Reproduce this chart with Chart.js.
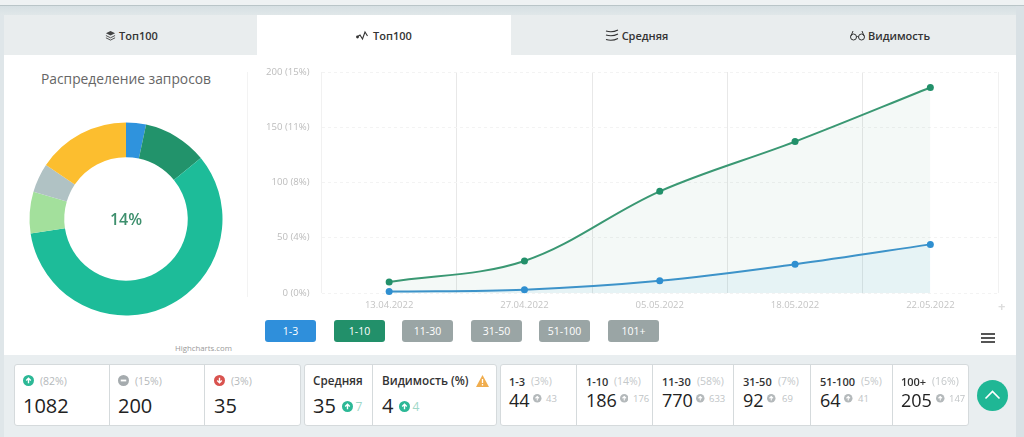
<!DOCTYPE html>
<html lang="ru">
<head>
<meta charset="utf-8">
<title>Топ100</title>
<script src="https://cdn.jsdelivr.net/npm/chart.js@4"></script>
<style>
    html, body { margin: 0; padding: 0; }
    body { width: 1024px; height: 437px; position: relative; overflow: hidden; background: #e9eef0; font-family: "Open Sans", sans-serif; color: #222; }
    .abs { position: absolute; }
    #topbar { left: 0; top: 0; width: 1024px; height: 5px; background: #eef2f3; border-bottom: 1px solid #b9c5c8; }
    #band { left: 0; top: 6px; width: 1024px; height: 9px; background: linear-gradient(#d6e0e3, #e0e7e9); }
    #side { left: 1016px; top: 6px; width: 8px; height: 431px; background: #d9e1e5; }
    #strip { left: 0; top: 15px; width: 4px; height: 422px; background: #dfe6e9; }
    #panel { left: 4px; top: 15px; width: 1012px; height: 340px; background: #fff; }
    .tab { position: absolute; top: 15px; height: 40px; background: #e9edee; font-size: 11px; font-weight: 600; color: #333; display: flex; align-items: center; justify-content: center; gap: 3px; }
    .tab.active { background: #fff; z-index: 1; }
    .tab svg { display: block; }
    #pie-title { left: 4px; width: 244px; top: 69px; text-align: center; font-size: 13.8px; color: #666; }
    #pie-center { left: 86px; width: 80px; top: 208px; text-align: center; font-size: 16px; font-weight: 600; color: #3d8f6d; }
    #credits { left: 175px; top: 342.500px; font-size: 7.800px; color: #999; }
    #divider { left: 247px; top: 72px; width: 1px; height: 225px; background: #f3f3f3; }
    #pie-wrap { left: 26px; top: 119px; width: 200px; height: 200px; }
    #line-wrap { left: 250px; top: 60px; width: 752px; height: 252px; }
    .legend-btn { position: absolute; top: 320px; width: 51px; height: 22px; border-radius: 3px; color: #fff; font-size: 10.500px; line-height: 22px; text-align: center; }
    #plus { left: 998px; top: 297px; font-size: 13px; color: #ddd; font-weight: 700; }
    .burger { position: absolute; left: 981px; width: 14px; height: 2px; background: #555; }
    .card { position: absolute; top: 364px; height: 62px; background: #fff; border: 1px solid #d5dadc; border-radius: 3px; box-sizing: border-box; }
    .sep { position: absolute; top: 364px; width: 1px; height: 62px; background: #d5dadc; }
    .txt { position: absolute; white-space: nowrap; }
    #up { left: 977px; top: 380px; width: 31px; height: 31px; border-radius: 50%; background: #1fb795; }
</style>
</head>
<body>
<div class="abs" id="topbar"></div>
<div class="abs" id="band"></div>
<div class="abs" id="side"></div>
<div class="abs" id="strip"></div>
<div class="abs" id="panel"></div>
<div class="abs" id="tabs"></div>

<div class="abs" id="pie-title">Распределение запросов</div>
<div class="abs" id="divider"></div>
<div class="abs" id="pie-wrap"><canvas id="pieChart" width="200" height="200"></canvas></div>
<div class="abs" id="pie-center">14%</div>
<div class="abs" id="credits">Highcharts.com</div>

<div class="abs" id="line-wrap"><canvas id="lineChart" width="752" height="252"></canvas></div>
<div id="legend"></div>
<div class="abs" id="plus">+</div>
<div class="burger" style="top:333px"></div>
<div class="burger" style="top:337px"></div>
<div class="burger" style="top:341px"></div>

<div id="stats"></div>
<div class="abs" id="up">
    <svg width="31" height="31" viewBox="0 0 31 31"><path d="M8.500 18.500l7-7 7 7" fill="none" stroke="#fff" stroke-width="1.600"/></svg>
</div>

<script>
// distribution of queries by position group
const pieLabels = ['1-3', '4-10', '11-30', '31-50', '51-100', '100+'];
const pieValues = [44, 142, 770, 92, 64, 205];
const pieColors = ['#2f93dd', '#22936b', '#1dbc99', '#a3e09c', '#b0c2c4', '#fcbe2f'];

// growth over time
const dates = ['13.04.2022', '27.04.2022', '05.05.2022', '18.05.2022', '22.05.2022'];
const top3Values = [1.3, 3, 11, 26, 44];
const top10Values = [10, 29, 92, 137, 186];
const yTicks = { 0: '0 (0%)', 50: '50 (4%)', 100: '100 (8%)', 150: '150 (11%)', 200: '200 (15%)' };

const legendNames = ['1-3', '1-10', '11-30', '31-50', '51-100', '101+'];
const legendLeft = [265, 334, 402, 471, 539, 608];
const legendColors = ['#2f8fdb', '#22906a', '#9aa5a5', '#9aa5a5', '#9aa5a5', '#9aa5a5'];

const tabIcons = {
    layers: '<svg width="11" height="11" viewBox="0 0 12 12"><path d="M6 1l5 2.500L6 6 1 3.500z" fill="#444"/><path d="M1 6l5 2.500L11 6M1 8.500L6 11l5-2.500" fill="none" stroke="#444"/></svg>',
    pulse: '<svg width="14" height="11" viewBox="0 0 14 11"><path d="M1 7l3-2 2.500 4L9 2l2.500 4" fill="none" stroke="#333" stroke-width="1.100"/><circle cx="1.500" cy="7" r="1.400" fill="#333"/></svg>',
    lines: '<svg width="14" height="12" viewBox="0 0 14 12"><path d="M1 2q6 2 12-1M1 6q6 2 12-1M1 10.500q6 2 12-1" fill="none" stroke="#333" stroke-width="1.100"/></svg>',
    glasses: '<svg width="15" height="11" viewBox="0 0 15 11"><circle cx="3.500" cy="7" r="3" fill="none" stroke="#333"/><circle cx="11.500" cy="7" r="3" fill="none" stroke="#333"/><path d="M6.500 7q1-1 2 0M1 6l2-5M14 6l-2-5" fill="none" stroke="#333"/></svg>'
};
const tabs = [
    { left: 4, width: 255, icon: 'layers', text: 'Топ100' },
    { left: 257, width: 254, icon: 'pulse', text: 'Топ100', active: true },
    { left: 509, width: 255, icon: 'lines', text: 'Средняя' },
    { left: 764, width: 252, icon: 'glasses', text: 'Видимость' }
];

// bottom summary cards
const changeCells = [
    { x: 23, icon: 'up', pct: '(82%)', value: '1082' },
    { x: 118, icon: 'same', pct: '(15%)', value: '200' },
    { x: 214, icon: 'down', pct: '(3%)', value: '35' }
];
const rangeCells = [
    { x: 509, name: '1-3', pct: '(3%)', pctX: 531, value: '44', was: '43', iconX: 533, wasX: 546 },
    { x: 586, name: '1-10', pct: '(14%)', pctX: 614, value: '186', was: '176', iconX: 619.500, wasX: 633 },
    { x: 662, name: '11-30', pct: '(58%)', pctX: 697, value: '770', was: '633', iconX: 696, wasX: 709 },
    { x: 743, name: '31-50', pct: '(7%)', pctX: 778, value: '92', was: '69', iconX: 767, wasX: 782 },
    { x: 820, name: '51-100', pct: '(5%)', pctX: 861, value: '64', was: '41', iconX: 844, wasX: 858 },
    { x: 901, name: '100+', pct: '(16%)', pctX: 932, value: '205', was: '147', iconX: 936, wasX: 949 }
];

function addText(parent, x, y, size, color, text, weight) {
    const el = document.createElement('div');
    el.className = 'txt';
    el.style.cssText = `left:${x}px;top:${y}px;font-size:${size}px;color:${color};font-weight:${weight || 400};line-height:1`;
    el.textContent = text;
    parent.appendChild(el);
}

function statusIcon(kind, color, size) {
    const glyphs = {
        up: '<path d="M6 9V3.600M3.500 6L6 3.500 8.500 6" fill="none" stroke="#fff" stroke-width="1.500"/>',
        down: '<path d="M6 3v5.400M3.500 6L6 8.500 8.500 6" fill="none" stroke="#fff" stroke-width="1.500"/>',
        same: '<path d="M3 6h6" stroke="#fff" stroke-width="2"/>'
    };
    return `<svg width="${size}" height="${size}" viewBox="0 0 12 12"><circle cx="6" cy="6" r="6" fill="${color}"/>${glyphs[kind]}</svg>`;
}

function addIcon(parent, x, y, kind, color, size) {
    const el = document.createElement('div');
    el.className = 'txt';
    el.style.cssText = `left:${x}px;top:${y}px;line-height:0`;
    el.innerHTML = statusIcon(kind, color, size);
    parent.appendChild(el);
}

function buildTabs() {
    const box = document.getElementById('tabs');
    tabs.forEach(tab => {
        const el = document.createElement('div');
        el.className = 'tab' + (tab.active ? ' active' : '');
        el.style.left = tab.left + 'px';
        el.style.width = tab.width + 'px';
        el.innerHTML = tabIcons[tab.icon] + '<span>' + tab.text + '</span>';
        box.parentNode.appendChild(el);
    });
}

function buildLegend() {
    const box = document.getElementById('legend');
    legendNames.forEach((name, i) => {
        const el = document.createElement('div');
        el.className = 'legend-btn';
        el.style.left = legendLeft[i] + 'px';
        el.style.background = legendColors[i];
        el.textContent = name;
        box.appendChild(el);
    });
}

function buildStats() {
    const box = document.getElementById('stats');
    const cardHtml = [[14, 287], [304, 193], [500, 469]]
        .map(c => `<div class="card" style="left:${c[0]}px;width:${c[1]}px"></div>`).join('');
    const sepHtml = [109, 204, 372, 576, 652, 733, 810, 892]
        .map(x => `<div class="sep" style="left:${x}px"></div>`).join('');
    box.innerHTML = cardHtml + sepHtml;

    const iconColors = { up: '#2cb896', same: '#a5abae', down: '#d9534f' };
    changeCells.forEach(c => {
        addIcon(box, c.x, 375, c.icon, iconColors[c.icon], 11);
        addText(box, c.x + 17, 375.500, 10.500, '#b5b9bb', c.pct);
        addText(box, c.x, 396, 20, '#222', c.value);
    });

    addText(box, 313, 375, 11.700, '#333', 'Средняя', 600);
    addText(box, 313, 396, 20, '#222', '35');
    addIcon(box, 341.500, 401, 'up', '#2cb896', 11);
    addText(box, 355.500, 400.500, 12, '#9fd8c8', '7');

    addText(box, 382, 375, 11.700, '#333', 'Видимость (%)', 600);
    addText(box, 382, 396, 20, '#222', '4');
    addIcon(box, 398.500, 401, 'up', '#2cb896', 11);
    addText(box, 412.500, 400.500, 12, '#9fd8c8', '4');
    const warn = document.createElement('div');
    warn.className = 'txt';
    warn.style.cssText = 'left:476px;top:375px;line-height:0';
    warn.innerHTML = '<svg width="13" height="12" viewBox="0 0 13 12"><path d="M6.500 0L13 12H0z" fill="#f0ad4e"/><path d="M6.500 4v4M6.500 9v1.500" stroke="#fff" stroke-width="1.300"/></svg>';
    box.appendChild(warn);

    rangeCells.forEach(c => {
        addText(box, c.x, 376, 11, '#333', c.name, 600);
        addText(box, c.pctX, 376, 10.500, '#c4c8ca', c.pct);
        addText(box, c.x, 391, 18, '#222', c.value);
        addIcon(box, c.iconX, 394, 'up', '#b4b9bb', 8.500);
        addText(box, c.wasX, 393.500, 9.500, '#c0c4c6', c.was);
    });
}

function initPieChart() {
    new Chart(document.getElementById('pieChart'), {
        type: 'doughnut',
        data: {
            labels: pieLabels,
            datasets: [{ data: pieValues, backgroundColor: pieColors, borderWidth: 0 }]
        },
        options: {
            responsive: false,
            animation: false,
            cutout: '64%',
            layout: { padding: 3.500 },
            plugins: { legend: { display: false }, tooltip: { enabled: false } }
        }
    });
}

function initLineChart() {
    new Chart(document.getElementById('lineChart'), {
        type: 'line',
        data: {
            labels: dates,
            datasets: [
                {
                    label: '1-3',
                    data: top3Values,
                    borderColor: '#3d93c9',
                    backgroundColor: 'rgba(60, 170, 230, 0.07)',
                    pointBackgroundColor: '#2f8fd0',
                    pointBorderColor: '#2f8fd0',
                    clip: false
                },
                {
                    label: '1-10',
                    data: top10Values,
                    borderColor: '#3a9873',
                    backgroundColor: 'rgba(34, 144, 106, 0.05)',
                    pointBackgroundColor: '#22906a',
                    pointBorderColor: '#22906a',
                    clip: false
                }
            ]
        },
        options: {
            responsive: false,
            animation: false,
            layout: { padding: { top: 12, right: 0, bottom: 0, left: 0 } },
            elements: {
                line: { borderWidth: 2, tension: 0.35, fill: 'origin' },
                point: { radius: 3.500, borderWidth: 0 }
            },
            scales: {
                x: {
                    offset: true,
                    grid: {
                        offset: true,
                        drawTicks: false,
                        // the outer lines of the plot are fainter than the inner ones
                        color: ctx => (ctx.index === undefined || ctx.index === 0 ? '#f1f1f1' : '#e8e8e8')
                    },
                    border: { display: false },
                    ticks: { color: '#c4c4c4', font: { family: 'Open Sans', size: 9.500 }, maxRotation: 0, padding: 7 },
                    afterFit: scale => { scale.height = 19; }
                },
                y: {
                    min: 0,
                    max: 200,
                    // transparent ticks keep the labels away from the plot; tick padding would also push its top down
                    grid: { color: '#f3f3f3', drawTicks: true, tickLength: 12, tickColor: 'transparent' },
                    border: { display: false, dash: [3, 3] },
                    ticks: {
                        stepSize: 50,
                        color: '#bcbcbc',
                        font: { family: 'Open Sans', size: 9.600 },
                        padding: 0,
                        callback: value => yTicks[value]
                    },
                    afterFit: scale => { scale.width = 71.500; }
                }
            },
            plugins: { legend: { display: false }, tooltip: { enabled: false } }
        }
    });
}

document.addEventListener('DOMContentLoaded', () => {
    buildTabs();
    buildLegend();
    buildStats();
    initPieChart();
    initLineChart();
});
</script>
</body>
</html>
